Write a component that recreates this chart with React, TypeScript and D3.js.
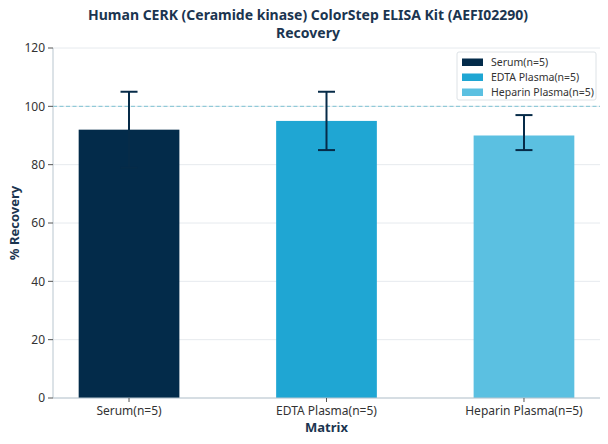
import { useMemo } from 'react'
import * as d3 from 'd3'

const TITLE = ['Human CERK (Ceramide kinase) ColorStep ELISA Kit (AEFI02290)', 'Recovery']
const CATEGORIES = ['Serum(n=5)', 'EDTA Plasma(n=5)', 'Heparin Plasma(n=5)']
const MEANS = [92, 95, 90]
const ERR_LOW = [79, 85, 85]
const ERR_HIGH = [105, 105, 97]
const COLORS = ['#032b4a', '#1fa6d3', '#5bc0e1']
const Y_TICKS = [0, 20, 40, 60, 80, 100, 120]
const REFERENCE = 100

const W = 608
const H = 444
const PLOT = { left: 53, right: 600, top: 48, bottom: 398 }
const FONT = '"Noto Sans", "Open Sans", sans-serif'
const INK = '#1b3550'
const ERR_COLOR = '#062b48'

export default function App() {
  const x = useMemo(
    () => d3.scalePoint<string>().domain(CATEGORIES).range([PLOT.left, PLOT.right]).padding(0.385),
    [],
  )
  const y = useMemo(() => d3.scaleLinear().domain([0, 120]).range([PLOT.bottom, PLOT.top]), [])
  const barW = x.step() * 0.51
  const capHalf = 8.5

  return (
    <svg width={W} height={H} style={{ position: 'absolute', left: 0, top: 0, background: '#fff' }} fontFamily={FONT}>
      {/* title */}
      {TITLE.map((t, i) => (
        <text key={t} x={W / 2 + 4} y={20 + i * 17.5} textAnchor="middle" fontSize={14} fontWeight="bold" fill={INK}>
          {t}
        </text>
      ))}

      {/* grid */}
      {Y_TICKS.map((v) => (
        <line key={v} x1={PLOT.left} x2={PLOT.right} y1={y(v)} y2={y(v)} stroke="#e6eaee" strokeWidth={1} />
      ))}

      {/* reference line */}
      <line
        x1={PLOT.left}
        x2={PLOT.right}
        y1={y(REFERENCE)}
        y2={y(REFERENCE)}
        stroke="#7fc3d3"
        strokeWidth={1}
        strokeDasharray="4,2.5"
      />

      {/* bars */}
      {CATEGORIES.map((c, i) => (
        <rect
          key={c}
          x={(x(c) ?? 0) - barW / 2}
          y={y(MEANS[i])}
          width={barW}
          height={y(0) - y(MEANS[i])}
          fill={COLORS[i]}
        />
      ))}

      {/* error bars */}
      {CATEGORIES.map((c, i) => {
        const cx = x(c) ?? 0
        return (
          <g key={c} stroke={ERR_COLOR} strokeWidth={2}>
            <line x1={cx} x2={cx} y1={y(ERR_LOW[i])} y2={y(ERR_HIGH[i])} />
            <line x1={cx - capHalf} x2={cx + capHalf} y1={y(ERR_HIGH[i])} y2={y(ERR_HIGH[i])} />
            <line x1={cx - capHalf} x2={cx + capHalf} y1={y(ERR_LOW[i])} y2={y(ERR_LOW[i])} />
          </g>
        )
      })}

      {/* axes */}
      <line x1={PLOT.left} x2={PLOT.left} y1={PLOT.top} y2={PLOT.bottom} stroke="#b9c6cf" />
      <line x1={PLOT.left} x2={PLOT.right} y1={PLOT.bottom} y2={PLOT.bottom} stroke="#b9c6cf" />
      {Y_TICKS.map((v) => (
        <g key={v}>
          <line x1={PLOT.left - 5} x2={PLOT.left} y1={y(v)} y2={y(v)} stroke="#555" />
          <text x={PLOT.left - 8} y={y(v)} dy="0.35em" textAnchor="end" fontSize={12} fill="#333">
            {v}
          </text>
        </g>
      ))}
      {CATEGORIES.map((c) => (
        <g key={c}>
          <line x1={x(c)} x2={x(c)} y1={PLOT.bottom} y2={PLOT.bottom + 4} stroke="#555" />
          <text x={x(c)} y={PLOT.bottom + 17} textAnchor="middle" fontSize={12} fill="#333">
            {c}
          </text>
        </g>
      ))}

      {/* axis titles */}
      <text x={(PLOT.left + PLOT.right) / 2} y={432} textAnchor="middle" fontSize={13} fontWeight="bold" fill={INK}>
        Matrix
      </text>
      <text
        transform={`translate(19,${(PLOT.top + PLOT.bottom) / 2}) rotate(-90)`}
        textAnchor="middle"
        fontSize={13}
        fontWeight="bold"
        fill={INK}
      >
        % Recovery
      </text>

      {/* legend */}
      <rect x={457} y={52} width={139} height={48} rx={2} fill="#fff" fillOpacity={0.9} stroke="#dde2e6" />
      {CATEGORIES.map((c, i) => (
        <g key={c} transform={`translate(462,${57 + i * 15})`}>
          <rect width={21} height={7.5} y={1.5} fill={COLORS[i]} />
          <text x={29} y={5} dy="0.35em" fontSize={10.5} fill="#333">
            {c}
          </text>
        </g>
      ))}
    </svg>
  )
}
